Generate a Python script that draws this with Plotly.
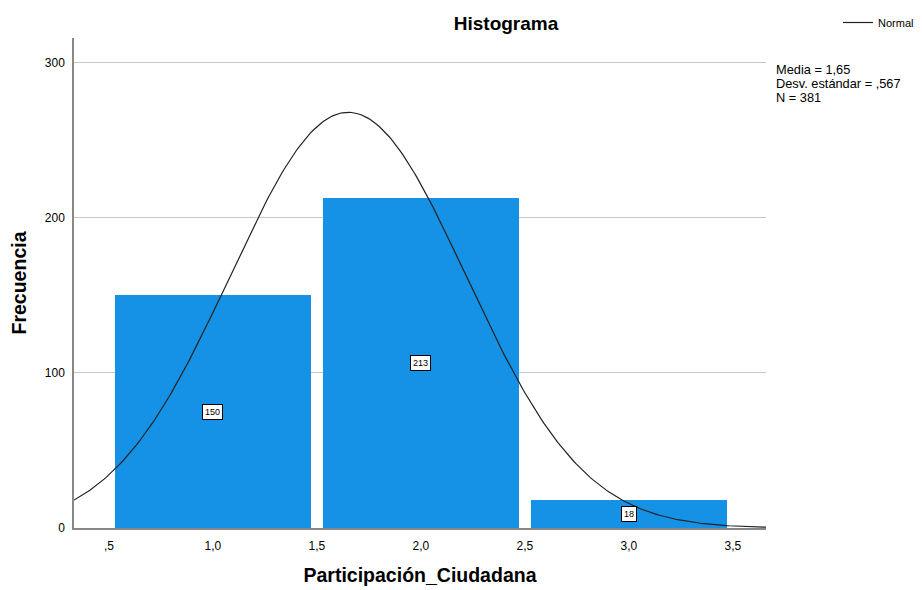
import numpy as np
import plotly.graph_objects as go

# Data
categories = [1.0, 2.0, 3.0]
frequencies = [150, 213, 18]
x_tick_vals = [0.5, 1.0, 1.5, 2.0, 2.5, 3.0, 3.5]
x_tick_text = [",5", "1,0", "1,5", "2,0", "2,5", "3,0", "3,5"]
y_tick_vals = [0, 100, 200, 300]
mean_val = 1.65
sd_val = 0.567
n_val = 381
bin_width = 1.0
stats_lines = ["Media = 1,65", "Desv. estándar = ,567", "N = 381"]

x_range = [0.332, 3.659]
y_range = [0, 316]

BAR_COLOR = "#1591E6"
FONT = "Liberation Sans, Arial, sans-serif"

# page body has an 8px margin, so the figure is drawn 8px smaller
W, H = 914, 582

fig = go.Figure()

fig.add_trace(go.Bar(
    x=categories, y=frequencies, width=0.945,
    marker=dict(color=BAR_COLOR, line=dict(width=0)),
    showlegend=False, hoverinfo="x+y",
))

# Normal curve from the reported statistics
xs = np.linspace(x_range[0], x_range[1], 300)
ys = n_val * bin_width / (sd_val * np.sqrt(2 * np.pi)) * np.exp(-0.5 * ((xs - mean_val) / sd_val) ** 2)
fig.add_trace(go.Scatter(
    x=xs, y=ys, mode="lines", name="Normal",
    line=dict(color="#222222", width=1.2), showlegend=True,
))

# Bar value labels
for c, f in zip(categories, frequencies):
    fig.add_annotation(
        x=c, y=f / 2, text=str(f), showarrow=False,
        font=dict(family=FONT, size=9, color="black"),
        bgcolor="white", bordercolor="black", borderwidth=1, borderpad=2,
    )

# Stats text
for i, line in enumerate(stats_lines):
    fig.add_annotation(
        xref="paper", yref="paper", x=1.012, y=0.935 - i * 0.0285,
        xanchor="left", yanchor="middle",
        text=line, showarrow=False, align="left",
        font=dict(family=FONT, size=12.8, color="black"),
    )

fig.update_layout(
    width=W, height=H,
    margin=dict(l=66, r=156, t=30, b=62, autoexpand=False),
    plot_bgcolor="white", paper_bgcolor="white",
    bargap=0,
    title=dict(text="<b>Histograma</b>", x=498 / W, xanchor="center", xref="container",
               y=1 - 15 / H, yanchor="middle", yref="container",
               font=dict(family=FONT, size=19, color="black")),
    font=dict(family=FONT, size=12, color="black"),
    legend=dict(x=830 / W, y=1.003, xanchor="left", yanchor="top",
                xref="container", yref="container",
                bgcolor="rgba(0,0,0,0)", font=dict(family=FONT, size=11, color="black"),
                itemwidth=30, tracegroupgap=0),
    xaxis=dict(
        range=x_range, tickvals=x_tick_vals, ticktext=x_tick_text, automargin=False,
        showgrid=False, zeroline=False, showline=True, linecolor="#888888", linewidth=1.5,
        ticks="", ticklabelstandoff=6, tickfont=dict(family=FONT, size=12, color="black"),
        title=dict(text="<b>Participación_Ciudadana</b>", font=dict(family=FONT, size=19.5, color="black"), standoff=16),
    ),
    yaxis=dict(
        range=y_range, tickvals=y_tick_vals, automargin=False,
        showgrid=True, gridcolor="#c8c8c8", gridwidth=1, zeroline=False,
        showline=True, linecolor="#888888", linewidth=1.5,
        ticks="", ticklabelstandoff=5, tickfont=dict(family=FONT, size=12, color="black"),
        title=dict(text="<b>Frecuencia</b>", font=dict(family=FONT, size=19.5, color="black"), standoff=25),
    ),
)

fig.write_html("out.html")
